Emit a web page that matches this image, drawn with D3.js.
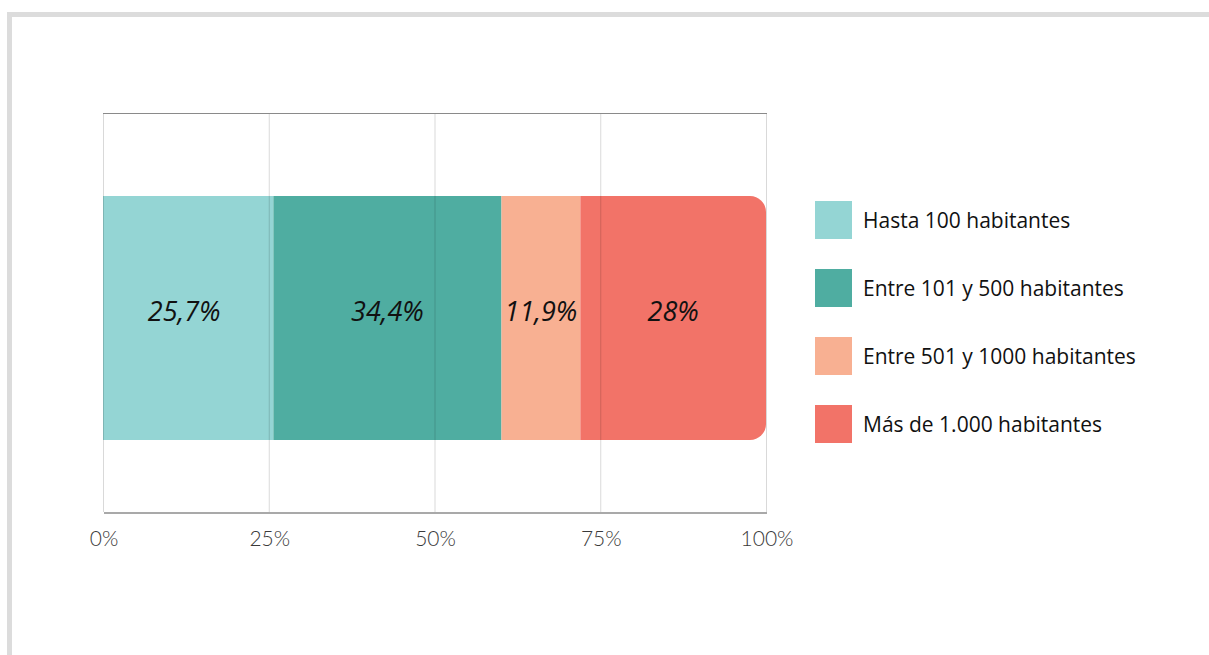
<!DOCTYPE html>
<html>
<head>
<meta charset="utf-8">
<script src="https://cdn.jsdelivr.net/npm/d3@7"></script>
<style>
  html, body { margin: 0; padding: 0; background: #fff; }
  svg { display: block; font-family: "Open Sans", "Noto Sans", sans-serif; }
  .tick text { font-size: 21px; fill: #3a3a3a; font-weight: 300; font-family: "Lato", "Open Sans", sans-serif; }
  .bar-label { font-size: 27px; font-style: italic; fill: #111; }
  .legend-label { font-size: 21px; fill: #111; }
</style>
</head>
<body>
<svg id="chart" width="1209" height="655"></svg>
<script>
const categories = ["Hasta 100 habitantes", "Entre 101 y 500 habitantes", "Entre 501 y 1000 habitantes", "Más de 1.000 habitantes"];
const values = [25.7, 34.4, 11.9, 28];
const valueLabels = ["25,7%", "34,4%", "11,9%", "28%"];
const colors = ["#94d5d4", "#4fada1", "#f8b092", "#f27368"];
const tickValues = [0, 25, 50, 75, 100];

const width = 1209;
const height = 655;
const plot = { left: 103, right: 766, top: 113, bottom: 512 };
const barTop = 196;
const barBottom = 440;
const cornerRadius = 16;

const svg = d3.select("#chart");

// outer frame (top and left gray band)
svg.append("rect").attr("x", 7).attr("y", 12).attr("width", width - 7).attr("height", 5).attr("fill", "#dcdcdc");
svg.append("rect").attr("x", 7).attr("y", 12).attr("width", 5).attr("height", height - 12).attr("fill", "#dcdcdc");

const x = d3.scaleLinear().domain([0, 100]).range([plot.left, plot.right]);

// stacked segments
let acc = 0;
const segments = values.map((v, i) => {
  const seg = { start: acc, end: acc + v, value: v, i };
  acc += v;
  return seg;
});

const g = svg.append("g");

segments.forEach((s) => {
  const x0 = x(s.start);
  const x1 = x(Math.min(s.end, 100));
  const last = s.i === segments.length - 1;
  if (last) {
    const r = cornerRadius;
    const p = d3.path();
    p.moveTo(x0, barTop);
    p.lineTo(x1 - r, barTop);
    p.arcTo(x1, barTop, x1, barTop + r, r);
    p.lineTo(x1, barBottom - r);
    p.arcTo(x1, barBottom, x1 - r, barBottom, r);
    p.lineTo(x0, barBottom);
    p.closePath();
    g.append("path").attr("d", p.toString()).attr("fill", colors[s.i]);
  } else {
    g.append("rect")
      .attr("x", x0)
      .attr("y", barTop)
      .attr("width", x1 - x0)
      .attr("height", barBottom - barTop)
      .attr("fill", colors[s.i]);
  }
});

// vertical gridlines, drawn over the bars
svg.append("g")
  .selectAll("line")
  .data(tickValues)
  .join("line")
  .attr("x1", (d) => x(d) + 0.5)
  .attr("x2", (d) => x(d) + 0.5)
  .attr("y1", plot.top)
  .attr("y2", plot.bottom)
  .attr("stroke", "rgba(0,0,0,0.15)")
  .attr("stroke-width", 1);

// top line
svg.append("line")
  .attr("x1", plot.left).attr("x2", plot.right + 1)
  .attr("y1", plot.top + 0.5).attr("y2", plot.top + 0.5)
  .attr("stroke", "#8a8a8a").attr("stroke-width", 1.2);

const xAxis = d3.axisBottom(x)
  .tickValues(tickValues)
  .tickSize(0)
  .tickPadding(19)
  .tickFormat((d) => d + "%");

const axisG = svg.append("g")
  .attr("transform", `translate(0.5,${plot.bottom + 0.5})`)
  .call(xAxis);
axisG.select(".domain").attr("stroke", "#555").attr("stroke-width", 1.2);

// bar value labels
svg.append("g")
  .selectAll("text")
  .data(segments)
  .join("text")
  .attr("class", "bar-label")
  .attr("x", (d) => x((d.start + d.end) / 2) - (d.i === 0 ? 4 : 0))
  .attr("y", (barTop + barBottom) / 2 - 4)
  .attr("text-anchor", "middle")
  .attr("dominant-baseline", "middle")
  .text((d) => valueLabels[d.i]);

// legend
const legendY = d3.scalePoint().domain(categories).range([220, 424]);
const legend = svg.append("g")
  .selectAll("g")
  .data(categories)
  .join("g")
  .attr("transform", (d) => `translate(815,${legendY(d)})`);

legend.append("rect")
  .attr("x", 0)
  .attr("y", -19)
  .attr("width", 37)
  .attr("height", 38)
  .attr("fill", (d, i) => colors[i]);

legend.append("text")
  .attr("class", "legend-label")
  .attr("x", 48)
  .attr("y", 2)
  .attr("dominant-baseline", "middle")
  .text((d) => d);
</script>
</body>
</html>
